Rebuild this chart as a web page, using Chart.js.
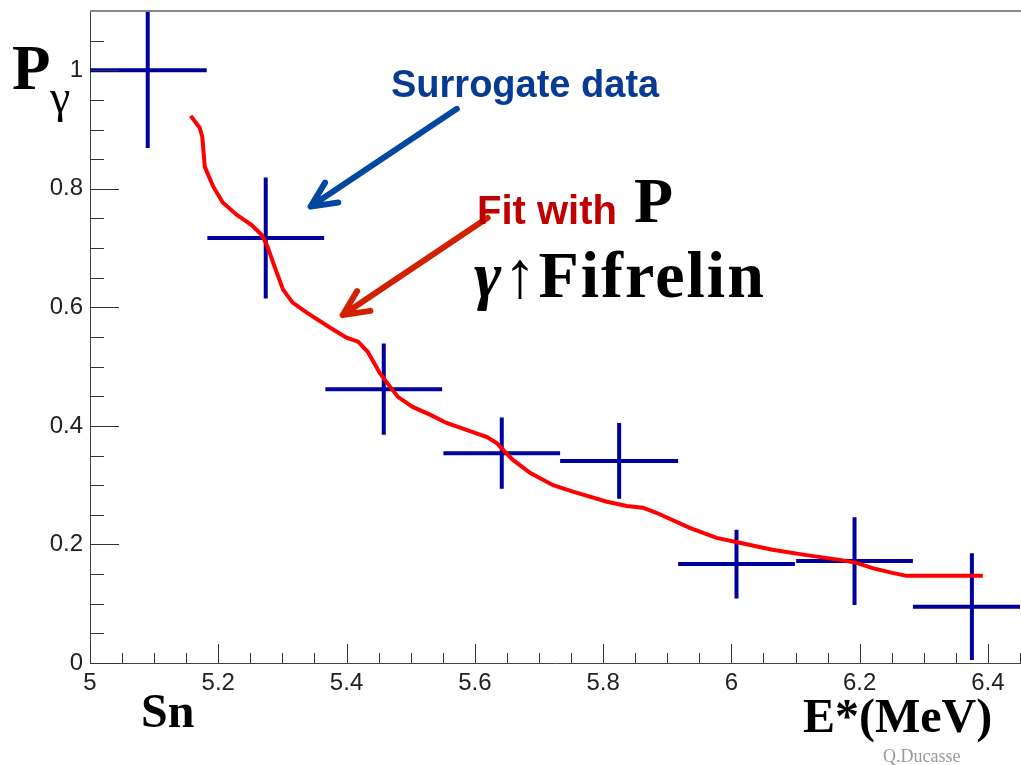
<!DOCTYPE html>
<html>
<head>
<meta charset="utf-8">
<script src="https://cdn.jsdelivr.net/npm/chart.js@4/dist/chart.umd.min.js"></script>
<style>
  html, body { margin: 0; padding: 0; background: #fff; }
  #wrap { position: relative; width: 1021px; height: 765px; overflow: hidden; }
  #plot { position: absolute; left: 0; top: 0; }
  .lbl { position: absolute; white-space: nowrap; line-height: 1; }
  .serif { font-family: "Liberation Serif", "Times New Roman", serif; font-weight: bold; color: #000; }
  .sans { font-family: "Liberation Sans", Arial, sans-serif; font-weight: bold; }
</style>
</head>
<body>
<div id="wrap">
  <canvas id="plot" width="1021" height="765"></canvas>
  <div class="lbl serif" style="left:12px; top:37px; font-size:63px;">P</div>
  <div class="lbl" style="left:50px; top:74px; font-size:46px; font-family:'Liberation Serif',serif;">γ</div>
  <div class="lbl sans" style="left:391px; top:65px; font-size:38px; color:#063a93;">Surrogate data</div>
  <div class="lbl sans" style="left:477px; top:190px; font-size:40px; color:#c00000;">Fit with</div>
  <div class="lbl serif" style="left:634px; top:169px; font-size:64px;">P</div>
  <div class="lbl serif" style="left:474px; top:242px; font-size:66px; letter-spacing:2px;"><i>γ</i><span style="font-weight:normal;font-style:italic;">↑</span>Fifrelin</div>
  <div class="lbl serif" style="left:141px; top:687px; font-size:48px;">Sn</div>
  <div class="lbl serif" style="left:803px; top:692px; font-size:48px;">E*(MeV)</div>
  <div class="lbl" style="left:883px; top:747px; font-size:18px; color:#999; font-family:'Liberation Serif',serif;">Q.Ducasse</div>
</div>
<script>
// surrogate data points (bin centre, half bin width, P_gamma, error)
const binCenters = [5.09, 5.274, 5.458, 5.642, 5.825, 6.008, 6.192, 6.375];
const binHalfWidth = [0.092, 0.091, 0.091, 0.091, 0.092, 0.091, 0.091, 0.092];
const pGamma = [1.0, 0.717, 0.462, 0.354, 0.341, 0.167, 0.172, 0.095];
const pGammaErr = [0.131, 0.102, 0.077, 0.06, 0.064, 0.058, 0.074, 0.09];

// fit curve (Fifrelin)
const fitE = [5.157, 5.171, 5.175, 5.179, 5.192, 5.207, 5.229, 5.252, 5.268, 5.277, 5.288, 5.301,
  5.316, 5.338, 5.374, 5.400, 5.418, 5.433, 5.452, 5.463, 5.480, 5.503, 5.530, 5.556, 5.588,
  5.619, 5.634, 5.659, 5.686, 5.722, 5.753, 5.806, 5.837, 5.862, 5.884, 5.935, 5.977, 6.013,
  6.064, 6.117, 6.169, 6.195, 6.220, 6.251, 6.273, 6.392];
const fitP = [0.923, 0.903, 0.888, 0.837, 0.804, 0.777, 0.756, 0.739, 0.722, 0.702, 0.668, 0.630,
  0.608, 0.591, 0.566, 0.549, 0.542, 0.525, 0.489, 0.473, 0.449, 0.432, 0.419, 0.405, 0.393,
  0.381, 0.371, 0.343, 0.321, 0.300, 0.289, 0.272, 0.265, 0.262, 0.253, 0.228, 0.211, 0.203,
  0.191, 0.182, 0.174, 0.169, 0.160, 0.152, 0.147, 0.147];

// axis ticks
const xTickValues = [5, 5.2, 5.4, 5.6, 5.8, 6, 6.2, 6.4];
const yTickValues = [0, 0.2, 0.4, 0.6, 0.8, 1];

// arrows, in data coordinates: [tailE, tailP, tipE, tipP]
const arrowSurrogate = [5.572, 0.935, 5.344, 0.770];
const arrowFit = [5.620, 0.751, 5.394, 0.587];

const pointData = binCenters.map((e, i) => ({ x: e, y: pGamma[i] }));
const fitData = fitE.map((e, i) => ({ x: e, y: fitP[i] }));

// crosses for the data points, under the fit line
const errorBars = {
  id: 'errorBars',
  beforeDatasetsDraw(chart) {
    const ctx = chart.ctx;
    const xs = chart.scales.x, ys = chart.scales.y;
    const a = chart.chartArea;
    ctx.save();
    ctx.beginPath();
    ctx.rect(a.left, a.top, a.right - a.left, a.bottom - a.top);
    ctx.clip();
    ctx.strokeStyle = '#00009c';
    ctx.lineWidth = 4;
    binCenters.forEach((e, i) => {
      const px = xs.getPixelForValue(e);
      const py = ys.getPixelForValue(pGamma[i]);
      ctx.beginPath();
      ctx.moveTo(xs.getPixelForValue(e - binHalfWidth[i]), py);
      ctx.lineTo(xs.getPixelForValue(e + binHalfWidth[i]), py);
      ctx.moveTo(px, ys.getPixelForValue(pGamma[i] + pGammaErr[i]));
      ctx.lineTo(px, ys.getPixelForValue(pGamma[i] - pGammaErr[i]));
      ctx.stroke();
    });
    ctx.restore();
  }
};

function drawArrow(ctx, chart, arr, color) {
  const xs = chart.scales.x, ys = chart.scales.y;
  const x0 = xs.getPixelForValue(arr[0]), y0 = ys.getPixelForValue(arr[1]);
  const x1 = xs.getPixelForValue(arr[2]), y1 = ys.getPixelForValue(arr[3]);
  const ang = Math.atan2(y0 - y1, x0 - x1);
  const len = 28, spread = 0.44;
  ctx.save();
  ctx.strokeStyle = color;
  ctx.lineWidth = 6;
  ctx.lineCap = 'round';
  ctx.lineJoin = 'round';
  ctx.beginPath();
  ctx.moveTo(x0, y0);
  ctx.lineTo(x1, y1);
  ctx.moveTo(x1 + len * Math.cos(ang - spread), y1 + len * Math.sin(ang - spread));
  ctx.lineTo(x1, y1);
  ctx.lineTo(x1 + len * Math.cos(ang + spread), y1 + len * Math.sin(ang + spread));
  ctx.stroke();
  ctx.restore();
}

// ROOT style frame: ticks pointing inwards, grey top line
const frame = {
  id: 'frame',
  afterDraw(chart) {
    const ctx = chart.ctx;
    const xs = chart.scales.x, ys = chart.scales.y;
    const a = chart.chartArea;
    ctx.save();
    ctx.strokeStyle = '#333';
    ctx.lineWidth = 1;
    ctx.beginPath();
    for (let v = 5; v <= 6.45 + 1e-9; v += 0.05) {
      const px = Math.round(xs.getPixelForValue(v)) + 0.5;
      const major = xTickValues.some(t => Math.abs(t - v) < 1e-6);
      ctx.moveTo(px, a.bottom);
      ctx.lineTo(px, a.bottom - (major ? 19 : 10));
    }
    for (let v = 0; v <= 1.1 + 1e-9; v += 0.05) {
      const py = Math.round(ys.getPixelForValue(v)) + 0.5;
      const major = yTickValues.some(t => Math.abs(t - v) < 1e-6);
      ctx.moveTo(a.left, py);
      ctx.lineTo(a.left + (major ? 29 : 14), py);
    }
    ctx.stroke();
    ctx.strokeStyle = '#888';
    ctx.lineWidth = 2;
    ctx.beginPath();
    ctx.moveTo(a.left, a.top);
    ctx.lineTo(a.right + 1, a.top);
    ctx.stroke();
    ctx.restore();

    drawArrow(ctx, chart, arrowSurrogate, '#0247a0');
    drawArrow(ctx, chart, arrowFit, '#d22000');
  }
};

const tickFont = { family: '"Liberation Sans", Arial, sans-serif', size: 24 };

new Chart(document.getElementById('plot').getContext('2d'), {
  type: 'scatter',
  data: {
    datasets: [
      {
        label: 'Surrogate data',
        data: pointData,
        pointRadius: 0,
        showLine: false
      },
      {
        label: 'Fit with Pγ Fifrelin',
        data: fitData,
        showLine: true,
        borderColor: '#ff0000',
        borderWidth: 4,
        pointRadius: 0,
        tension: 0
      }
    ]
  },
  options: {
    responsive: false,
    animation: false,
    layout: { padding: { top: 11, right: 1, left: 0, bottom: 0 } },
    plugins: {
      legend: { display: false },
      tooltip: { enabled: false }
    },
    scales: {
      x: {
        type: 'linear',
        min: 5,
        max: 6.45,
        afterBuildTicks: scale => { scale.ticks = xTickValues.map(v => ({ value: v })); },
        afterFit: scale => {
          scale.height = 102;
          scale.paddingLeft = 0;
          scale.paddingRight = 0;
        },
        grid: { display: false, drawTicks: false },
        border: { display: true, color: '#444', width: 1 },
        ticks: {
          font: tickFont,
          color: '#222',
          padding: 6,
          maxRotation: 0,
          autoSkip: false,
          callback: v => String(v)
        }
      },
      y: {
        min: 0,
        max: 1.1,
        afterBuildTicks: scale => { scale.ticks = yTickValues.map(v => ({ value: v })); },
        afterFit: scale => {
          scale.width = 90;
          scale.paddingTop = 0;
          scale.paddingBottom = 0;
        },
        grid: { display: false, drawTicks: false },
        border: { display: true, color: '#444', width: 1 },
        ticks: {
          font: tickFont,
          color: '#222',
          padding: 7,
          autoSkip: false,
          callback: v => String(v)
        }
      }
    }
  },
  plugins: [errorBars, frame]
});
</script>
</body>
</html>
